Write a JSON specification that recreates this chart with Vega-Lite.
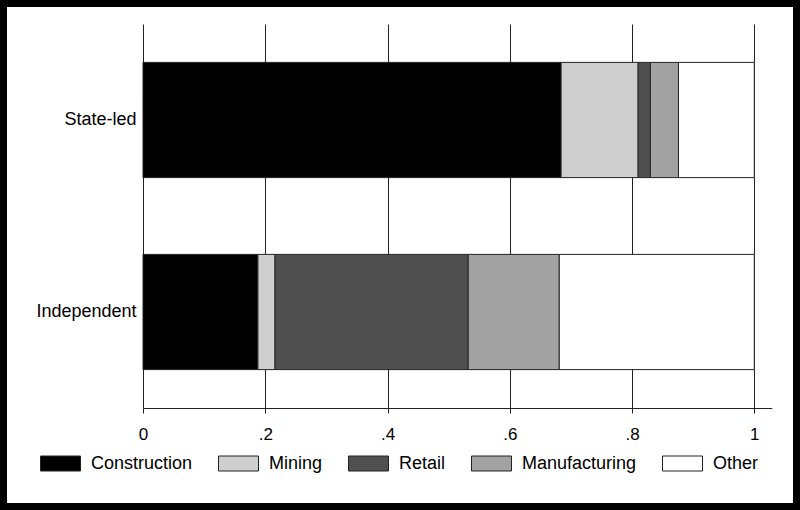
{
  "$schema": "https://vega.github.io/schema/vega-lite/v6.json",
  "width": 786,
  "height": 496,
  "padding": 7,
  "autosize": {"type": "none"},
  "background": "black",
  "config": {
    "font": "Liberation Sans",
    "view": {"fill": "white", "stroke": null}
  },
  "data": {
    "values": [
      {"group": "State-led", "sector": "Construction", "k": 1, "share": 0.684},
      {"group": "State-led", "sector": "Mining", "k": 2, "share": 0.126},
      {"group": "State-led", "sector": "Retail", "k": 3, "share": 0.020},
      {"group": "State-led", "sector": "Manufacturing", "k": 4, "share": 0.046},
      {"group": "State-led", "sector": "Other", "k": 5, "share": 0.124},
      {"group": "Independent", "sector": "Construction", "k": 1, "share": 0.188},
      {"group": "Independent", "sector": "Mining", "k": 2, "share": 0.028},
      {"group": "Independent", "sector": "Retail", "k": 3, "share": 0.316},
      {"group": "Independent", "sector": "Manufacturing", "k": 4, "share": 0.149},
      {"group": "Independent", "sector": "Other", "k": 5, "share": 0.319}
    ]
  },
  "mark": {"type": "bar", "stroke": "#222", "strokeWidth": 1},
  "encoding": {
    "y": {
      "field": "group",
      "type": "nominal",
      "sort": ["State-led", "Independent"],
      "scale": {"range": [17, 401], "paddingInner": 0.4, "paddingOuter": 0.2},
      "axis": {
        "orient": "left",
        "offset": -136,
        "title": null,
        "domain": false,
        "ticks": false,
        "grid": false,
        "labelFontSize": 18,
        "labelPadding": 7,
        "labelColor": "black"
      }
    },
    "x": {
      "field": "share",
      "type": "quantitative",
      "stack": "zero",
      "scale": {"domain": [0, 1.0285], "range": [136, 764.7], "nice": false},
      "axis": {
        "orient": "top",
        "offset": -401,
        "title": null,
        "values": [0, 0.2, 0.4, 0.6, 0.8, 1],
        "labelExpr": "datum.value == 0 ? '0' : datum.value == 1 ? '1' : '.' + round(datum.value * 10)",
        "grid": true,
        "gridColor": "#222",
        "gridOpacity": 1,
        "gridWidth": 1,
        "domain": true,
        "domainColor": "#222",
        "domainWidth": 1,
        "ticks": true,
        "tickSize": -5,
        "tickColor": "#222",
        "labelBaseline": "top",
        "labelPadding": -13,
        "labelFontSize": 17,
        "labelColor": "black",
        "labelFlush": false
      }
    },
    "color": {
      "field": "sector",
      "type": "nominal",
      "scale": {
        "domain": ["Construction", "Mining", "Retail", "Manufacturing", "Other"],
        "range": ["#000000", "#cfcfcf", "#505050", "#a2a2a2", "#ffffff"]
      },
      "legend": {
        "orient": "none",
        "legendX": 33,
        "legendY": 436,
        "direction": "horizontal",
        "columns": 5,
        "title": null,
        "padding": 0,
        "columnPadding": 23,
        "labelFontSize": 18,
        "labelColor": "black",
        "labelOffset": 10,
        "symbolType": "M-1,-0.375H1V0.375H-1Z",
        "symbolSize": 1600,
        "symbolStrokeColor": "#222",
        "symbolStrokeWidth": 1,
        "symbolOpacity": 1
      }
    },
    "order": {"field": "k", "type": "quantitative"}
  }
}
